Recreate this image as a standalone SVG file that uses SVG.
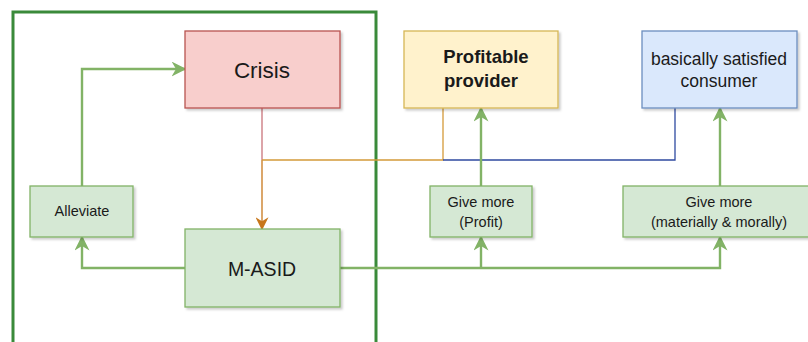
<svg xmlns="http://www.w3.org/2000/svg" width="808" height="342" viewBox="0 0 808 342">
<style>
text{font-family:"Liberation Sans",Arial,sans-serif;fill:#1a1a1a;text-anchor:middle}
.g{fill:#d5e8d4;stroke:#82b366;stroke-width:1.3}
.gl{fill:none;stroke:#82b366;stroke-width:2.4}
.sm{font-size:14.5px}
</style>
<defs>
<filter id="sh" x="-10%" y="-10%" width="130%" height="130%">
<feDropShadow dx="2" dy="2" stdDeviation="1.2" flood-color="#000" flood-opacity="0.2"/>
</filter>
<marker id="ag2" viewBox="0 0 10 10" refX="9" refY="5" markerWidth="15" markerHeight="15" orient="auto" markerUnits="userSpaceOnUse">
<path d="M0,0 L10,5 L0,10 L3,5 z" fill="#82b366"/>
</marker>
<marker id="ao" viewBox="0 0 10 10" refX="9" refY="5" markerWidth="13" markerHeight="13" orient="auto" markerUnits="userSpaceOnUse">
<path d="M0,0 L10,5 L0,10 L3,5 z" fill="#c8771b"/>
</marker>
</defs>
<rect width="808" height="342" fill="#fff"/>
<rect x="13" y="12" width="363" height="332" fill="none" stroke="#3a8a3a" stroke-width="3"/>
<g id="connectors">
<path d="M262,108 V160" fill="none" stroke="#c9737a" stroke-width="1.3"/>
<path d="M262,160 V229" fill="none" stroke="#c8771b" stroke-width="1.3" marker-end="url(#ao)"/>
<path d="M262,160 H443 V108" fill="none" stroke="#d49a3a" stroke-width="1.3"/>
<path d="M443,160 H675 V108" fill="none" stroke="#2f4aa0" stroke-width="1.3"/>
<path class="gl" d="M82,186 V69 H185" marker-end="url(#ag2)"/>
<path class="gl" d="M185,268 H82 V237" marker-end="url(#ag2)"/>
<path class="gl" d="M340,268 H720 V237" marker-end="url(#ag2)"/>
<path class="gl" d="M481,268 V237" marker-end="url(#ag2)"/>
<path class="gl" d="M481,186 V108" marker-end="url(#ag2)"/>
<path class="gl" d="M720,186 V108" marker-end="url(#ag2)"/>
</g>
<g id="crisis">
<rect x="185" y="31" width="155" height="77" fill="#f8cecc" stroke="#b85450" stroke-width="1.3" filter="url(#sh)"/>
<text x="262" y="78" font-size="22.5">Crisis</text>
</g>
<g id="alleviate">
<rect class="g" x="30" y="186" width="103" height="51" filter="url(#sh)"/>
<text class="sm" x="82" y="216">Alleviate</text>
</g>
<g id="masid">
<rect class="g" x="185" y="229" width="155" height="78" filter="url(#sh)"/>
<text x="262" y="276" font-size="19.5">M-ASID</text>
</g>
<g id="provider">
<rect x="404" y="31" width="154" height="77" fill="#fff2cc" stroke="#d6b656" stroke-width="1.3" filter="url(#sh)"/>
<text x="486" y="63" font-size="18.5" font-weight="bold">Profitable</text>
<text x="481" y="87" font-size="18.5" font-weight="bold">provider</text>
</g>
<g id="consumer">
<rect x="642" y="31" width="155" height="77" fill="#dae8fc" stroke="#6c8ebf" stroke-width="1.3" filter="url(#sh)"/>
<text x="719" y="65" font-size="17.5">basically satisfied</text>
<text x="719" y="87" font-size="17.5">consumer</text>
</g>
<g id="give-profit">
<rect class="g" x="430" y="186" width="102" height="51" filter="url(#sh)"/>
<text class="sm" x="481" y="207">Give more</text>
<text class="sm" x="481" y="227">(Profit)</text>
</g>
<g id="give-material">
<rect class="g" x="623" y="186" width="190" height="51" filter="url(#sh)"/>
<text class="sm" x="719" y="207">Give more</text>
<text class="sm" x="719" y="227">(materially &amp; morally)</text>
</g>
</svg>
